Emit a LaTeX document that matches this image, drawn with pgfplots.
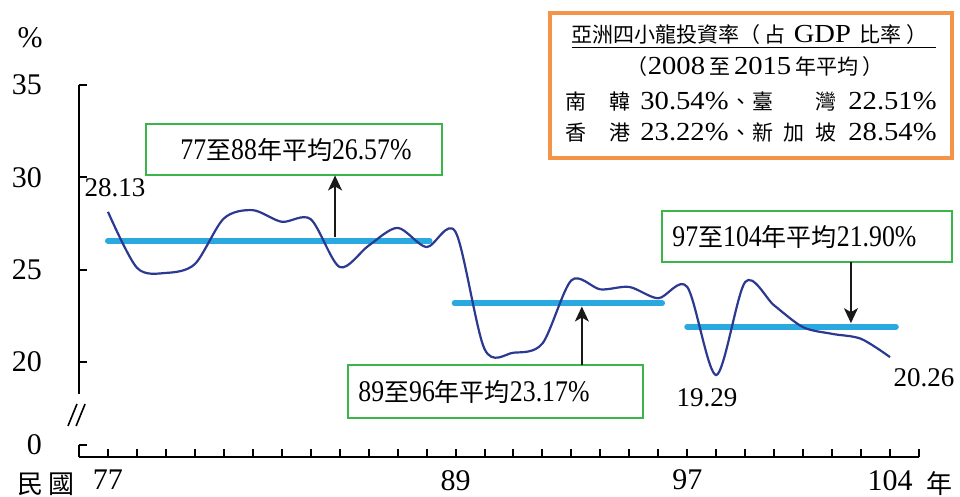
\documentclass[border=0pt]{standalone}
\usepackage{fontspec}
\setmainfont{Liberation Serif}
\newfontfamily\cjk{Noto Sans CJK TC}
\newfontfamily\cond[FakeStretch=0.86]{Liberation Serif}
\newfontfamily\wide[FakeStretch=1.1]{Liberation Serif}
\usepackage{pgfplots}
\pgfplotsset{compat=1.18}
\usetikzlibrary{arrows.meta}

\definecolor{curveblue}{HTML}{2B3990}
\definecolor{avgblue}{HTML}{2AA8E0}
\definecolor{boxgreen}{HTML}{39B54A}
\definecolor{boxorange}{HTML}{F39448}

% CJK pieces: axis (13pt), boxes (12.5pt), legend (10.5pt)
\newcommand\CA[1]{{\cjk\fontsize{13}{15}\selectfont #1}}
\newcommand\CB[1]{{\cjk\fontsize{12.5}{14}\selectfont #1}}
\newcommand\CL[1]{{\cjk\fontsize{10.5}{12}\selectfont #1}}

\pgfplotstableread{
year rate
77 28.13
78 25.10
79 24.82
80 25.30
81 27.77
82 28.22
83 27.59
84 27.73
85 25.14
86 26.30
87 27.26
88 26.22
89 27.04
90 20.70
91 20.50
92 21.00
93 24.42
94 23.93
95 24.06
96 23.45
97 24.06
98 19.29
99 24.33
100 23.06
101 21.88
102 21.52
103 21.25
104 20.26
}\invest

\begin{document}
\begin{tikzpicture}
\useasboundingbox (0,0) rectangle (480pt,248.5pt);
\begin{axis}[
    at={(39.5pt,20pt)}, anchor=south west,
    scale only axis, width=420pt, height=186pt,
    xmin=76, xmax=105, ymin=14.85, ymax=35,
    axis x line=bottom, axis y line=left,
    x axis line style={-, line width=1.3pt},
    y axis line style={draw=none},
    tick align=inside,
    major tick length=4pt,
    tick style={black, line width=1pt},
    xtick={77,...,105},
    xticklabels={77,{},{},{},{},{},{},{},{},{},{},{},89,{},{},{},{},{},{},{},97,{},{},{},{},{},{},104,{}},
    ytick={15.5,20,25,30,35},
    yticklabels={0\hspace{3.5pt},20,25,30,35},
    ticklabel style={font=\fontsize{15}{17}\selectfont},
    yticklabel style={xshift=-15pt},
    xticklabel style={yshift=-3pt},
    clip=false,
]
% period averages, then the series on top
\addplot[avgblue, line width=3pt, line cap=round] coordinates {(77,26.57) (88.1,26.57)};
\addplot[avgblue, line width=3pt, line cap=round] coordinates {(88.97,23.17) (96.13,23.17)};
\addplot[avgblue, line width=3pt, line cap=round] coordinates {(97,21.90) (104.2,21.90)};
\addplot[smooth, curveblue, line width=1.1pt, mark=none] table[x=year, y=rate] {\invest};

% broken y axis
\draw[line width=1.3pt] (axis cs:76,35) -- (axis cs:76,18.25);
\draw[line width=1.3pt] (axis cs:76,15.5) -- (axis cs:76,14.85);
\draw[line width=0.8pt] (axis cs:75.62,16.53) -- (axis cs:75.93,17.72);
\draw[line width=0.8pt] (axis cs:75.90,16.53) -- (axis cs:76.21,17.72);

% axis texts
\node[font=\fontsize{15}{17}\selectfont] at (axis cs:74.31,37.55) {\%};
\node at (axis cs:74.86,13.39) {\CA{民\,國}};
\node at (axis cs:105.72,13.39) {\CA{年}};

% value labels
\node[font=\fontsize{13.5}{15}\selectfont] at (axis cs:77.24,29.42) {28.13};
\node[font=\fontsize{13.5}{15}\selectfont] at (axis cs:97.68,18.04) {19.29};
\node[font=\fontsize{13.5}{15}\selectfont] at (axis cs:105.17,19.13) {20.26};

% period boxes
\draw[boxgreen, line width=1.25pt, fill=white] (axis cs:78.313,32.887) rectangle (axis cs:88.532,30.125);
\node[anchor=west, inner sep=0pt] at (axis cs:79.487,31.479)
    {\cond\fontsize{15}{17}\selectfont 77\CB{至}88\CB{年平均}26.57\%};
\draw[boxgreen, line width=1.25pt, fill=white] (axis cs:85.287,19.832) rectangle (axis cs:95.471,16.961);
\node[anchor=west, inner sep=0pt] at (axis cs:85.632,18.37)
    {\cond\fontsize{15}{17}\selectfont 89\CB{至}96\CB{年平均}23.17\%};
\draw[boxgreen, line width=1.25pt, fill=white] (axis cs:96.127,28.174) rectangle (axis cs:106.139,25.412);
\node[anchor=west, inner sep=0pt] at (axis cs:96.472,26.766)
    {\cond\fontsize{15}{17}\selectfont 97\CB{至}104\CB{年平均}21.90\%};

% arrows
\tikzset{pointer/.style={line width=0.75pt, color=black!90, -{Stealth[length=7.5pt,width=7pt,inset=2pt]}}}
\draw[pointer] (axis cs:84.84,26.75) -- (axis cs:84.84,30.10);
\draw[pointer] (axis cs:93.36,19.83) -- (axis cs:93.36,23.0);
\draw[pointer] (axis cs:102.65,25.41) -- (axis cs:102.65,22.10);

% legend box
\draw[boxorange, line width=1.75pt, fill=white] (axis cs:92.26,38.90) rectangle (axis cs:106.139,31.05);
\node[font=\wide\fontsize{13}{15}\selectfont] at (axis cs:99.30,37.60)
    {\underline{\CL{亞洲四小龍投資率（}\hspace{2pt}\CL{占}\hspace{4pt}GDP\hspace{4pt}\CL{比率}\hspace{3pt}\CL{）}\hspace{4pt}}};
\node[font=\wide\fontsize{13}{15}\selectfont] at (axis cs:99.34,35.98)
    {\CL{（}2008\hspace{2pt}\CL{至}\hspace{2pt}2015\hspace{2pt}\CL{年平均}\hspace{2pt}\CL{）}};
\node[anchor=west, inner sep=0pt, font=\wide\fontsize{13}{15}\selectfont] at (axis cs:92.78,34.08)
    {\makebox[32.5pt]{\CL{南}\hfill\CL{韓}}\hspace{5pt}\makebox[45pt][l]{30.54\%}\makebox[11pt][l]{\CL{、}}\makebox[42pt]{\CL{臺}\hfill\CL{灣}}\hspace{6pt}22.51\%};
\node[anchor=west, inner sep=0pt, font=\wide\fontsize{13}{15}\selectfont] at (axis cs:92.78,32.45)
    {\makebox[32.5pt]{\CL{香}\hfill\CL{港}}\hspace{5pt}\makebox[45pt][l]{23.22\%}\makebox[11pt][l]{\CL{、}}\makebox[42pt]{\CL{新}\hfill\CL{加}\hfill\CL{坡}}\hspace{6pt}28.54\%};
\end{axis}
\end{tikzpicture}
\end{document}
